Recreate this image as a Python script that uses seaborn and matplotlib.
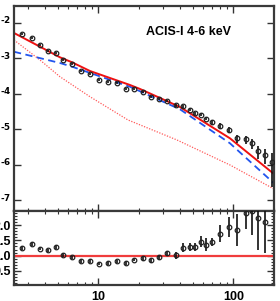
import numpy as np
import pandas as pd
import matplotlib
matplotlib.use('Agg')
import matplotlib.pyplot as plt
import matplotlib.ticker as mticker
import seaborn as sns

# spectrum data points (keV, flux)
energy = [2.72, 3.21, 3.72, 4.26, 4.86, 5.52, 6.41, 7.44, 8.68, 10.1, 11.9, 13.8,
          16.1, 18.5, 21.3, 24.4, 28.1, 32.5, 37.4, 42.4, 47.4, 52.5, 57.7, 62.8,
          70.1, 80.1, 92.9, 107.4, 123.4, 137.6, 153.7, 171.8, 192.4]
flux = [4.89e-3, 3.64e-3, 2.36e-3, 1.63e-3, 1.40e-3, 8.72e-4, 6.73e-4, 4.44e-4,
        3.66e-4, 2.43e-4, 2.09e-4, 1.96e-4, 1.36e-4, 1.33e-4, 1.09e-4, 8.07e-5,
        7.09e-5, 6.35e-5, 4.71e-5, 4.45e-5, 3.54e-5, 2.80e-5, 2.56e-5, 1.98e-5,
        1.56e-5, 1.26e-5, 9.68e-6, 5.54e-6, 5.19e-6, 4.01e-6, 2.48e-6, 1.87e-6,
        1.17e-6]
flux_relerr = [0.06] * 18 + [0.10] * 6 + [0.15, 0.18, 0.20, 0.25, 0.27, 0.33,
                                          0.40, 0.45, 0.80]

# ratio panel
ratio = [1.26, 1.37, 1.23, 1.17, 1.28, 1.03, 0.94, 0.82, 0.82, 0.74, 0.77, 0.81,
         0.75, 0.87, 0.91, 0.85, 0.94, 1.08, 1.01, 1.26, 1.29, 1.28, 1.45, 1.36,
         1.45, 1.71, 1.94, 1.83, 2.38, 2.47, 2.22, 2.11]
ratio_err = [0.06] * 14 + [0.08, 0.08, 0.08, 0.08, 0.12, 0.15, 0.13, 0.13, 0.18,
                           0.22, 0.14, 0.28, 0.32, 0.52, 0.51, 0.80, 1.03, 1.03]

# model curves
total_e = [2.375, 3.70, 5.20, 6.39, 8.68, 17.17, 20.37, 40.29, 94.5, 200.2]
total_f = [5.13e-3, 2.11e-3, 1.06e-3, 7.67e-4, 4.36e-4, 1.76e-4, 1.36e-4,
           4.22e-5, 5.54e-6, 5.47e-7]
comp_e = [2.375, 5.20, 6.39, 17.17, 40.29, 94.5, 200.2]
comp_f = [1.52e-3, 7.33e-4, 5.77e-4, 1.57e-4, 3.64e-5, 4.01e-6, 2.99e-7]
pl_e = [2.375, 3.70, 5.20, 8.68, 16.60, 38.28, 94.5, 200.2]
pl_f = [3.26e-3, 8.89e-4, 3.01e-4, 8.22e-5, 1.82e-5, 4.97e-6, 9.82e-7, 2.07e-7]

sns.set_theme(style='ticks')
plt.rcParams['font.family'] = ['Liberation Sans', 'DejaVu Sans']
plt.rcParams['font.weight'] = 'bold'

fig = plt.figure(figsize=(2.8, 3.01), dpi=100)
ax1 = fig.add_axes([0.05, 0.300, 0.9296, 0.681])
ax2 = fig.add_axes([0.05, 0.052, 0.9296, 0.248], sharex=ax1)

sns.lineplot(x=pl_e, y=pl_f, ax=ax1, color='#ff5a5a', lw=0.9,
             linestyle=(0, (1, 1.2)), sort=False, estimator=None)
sns.lineplot(x=comp_e, y=comp_f, ax=ax1, color='#2255ee', lw=1.3,
             linestyle=(0, (4, 2.5)), sort=False, estimator=None)
sns.lineplot(x=total_e, y=total_f, ax=ax1, color='#ee1111', lw=1.4,
             sort=False, estimator=None)

marker_kw = dict(fmt='o', ms=3.3, mfc='none', mec='#222222', mew=0.9,
                 ecolor='#111111', elinewidth=1.2, capsize=0, zorder=5)

flux_err = np.array(flux) * np.array(flux_relerr)
ax1.errorbar(energy, flux, yerr=flux_err, **marker_kw)

ax1.set_xscale('log')
ax1.set_yscale('log')
ax1.set_xlim(2.375, 201.3)
ax1.set_ylim(5.06e-8, 0.0301)
ax1.yaxis.set_minor_locator(mticker.NullLocator())
ax1.yaxis.set_major_locator(mticker.LogLocator(base=10, numticks=12))
ax1.yaxis.set_major_formatter(mticker.FuncFormatter(
    lambda v, p: '10$^{\\text{-}%d}$' % round(-np.log10(v))))
ax1.tick_params(axis='x', labelbottom=False)
ax1.text(0.507, 0.873, 'ACIS-I 4-6 keV', transform=ax1.transAxes,
         fontsize=9, fontweight='bold', ha='left', va='center', color='black')

ax2.axhline(1.0, color='#f03c3c', lw=1.6, zorder=1)
ax2.errorbar(energy[:len(ratio)], ratio, yerr=ratio_err, **marker_kw)
ax2.set_ylim(0.03, 2.467)
ax2.yaxis.set_major_locator(mticker.MultipleLocator(0.5))
ax2.yaxis.set_minor_locator(mticker.MultipleLocator(0.1))
ax2.yaxis.set_major_formatter(mticker.FormatStrFormatter('%.1f'))
ax2.xaxis.set_major_formatter(mticker.FuncFormatter(lambda v, p: f'{v:g}'))

for ax in (ax1, ax2):
    ax.tick_params(which='both', direction='in', top=True, right=True,
                   labelsize=9, pad=2.2, color='#333333', labelcolor='black')
    ax.tick_params(which='major', length=5, width=1.0)
    ax.tick_params(which='minor', length=2.5, width=0.8)
    for s in ax.spines.values():
        s.set_color('#3a3a3a')
        s.set_linewidth(1.6)
    ax.set_xlabel('')
    ax.set_ylabel('')
ax2.tick_params(axis='x', pad=4)

fig.savefig('out.png', dpi=100)
